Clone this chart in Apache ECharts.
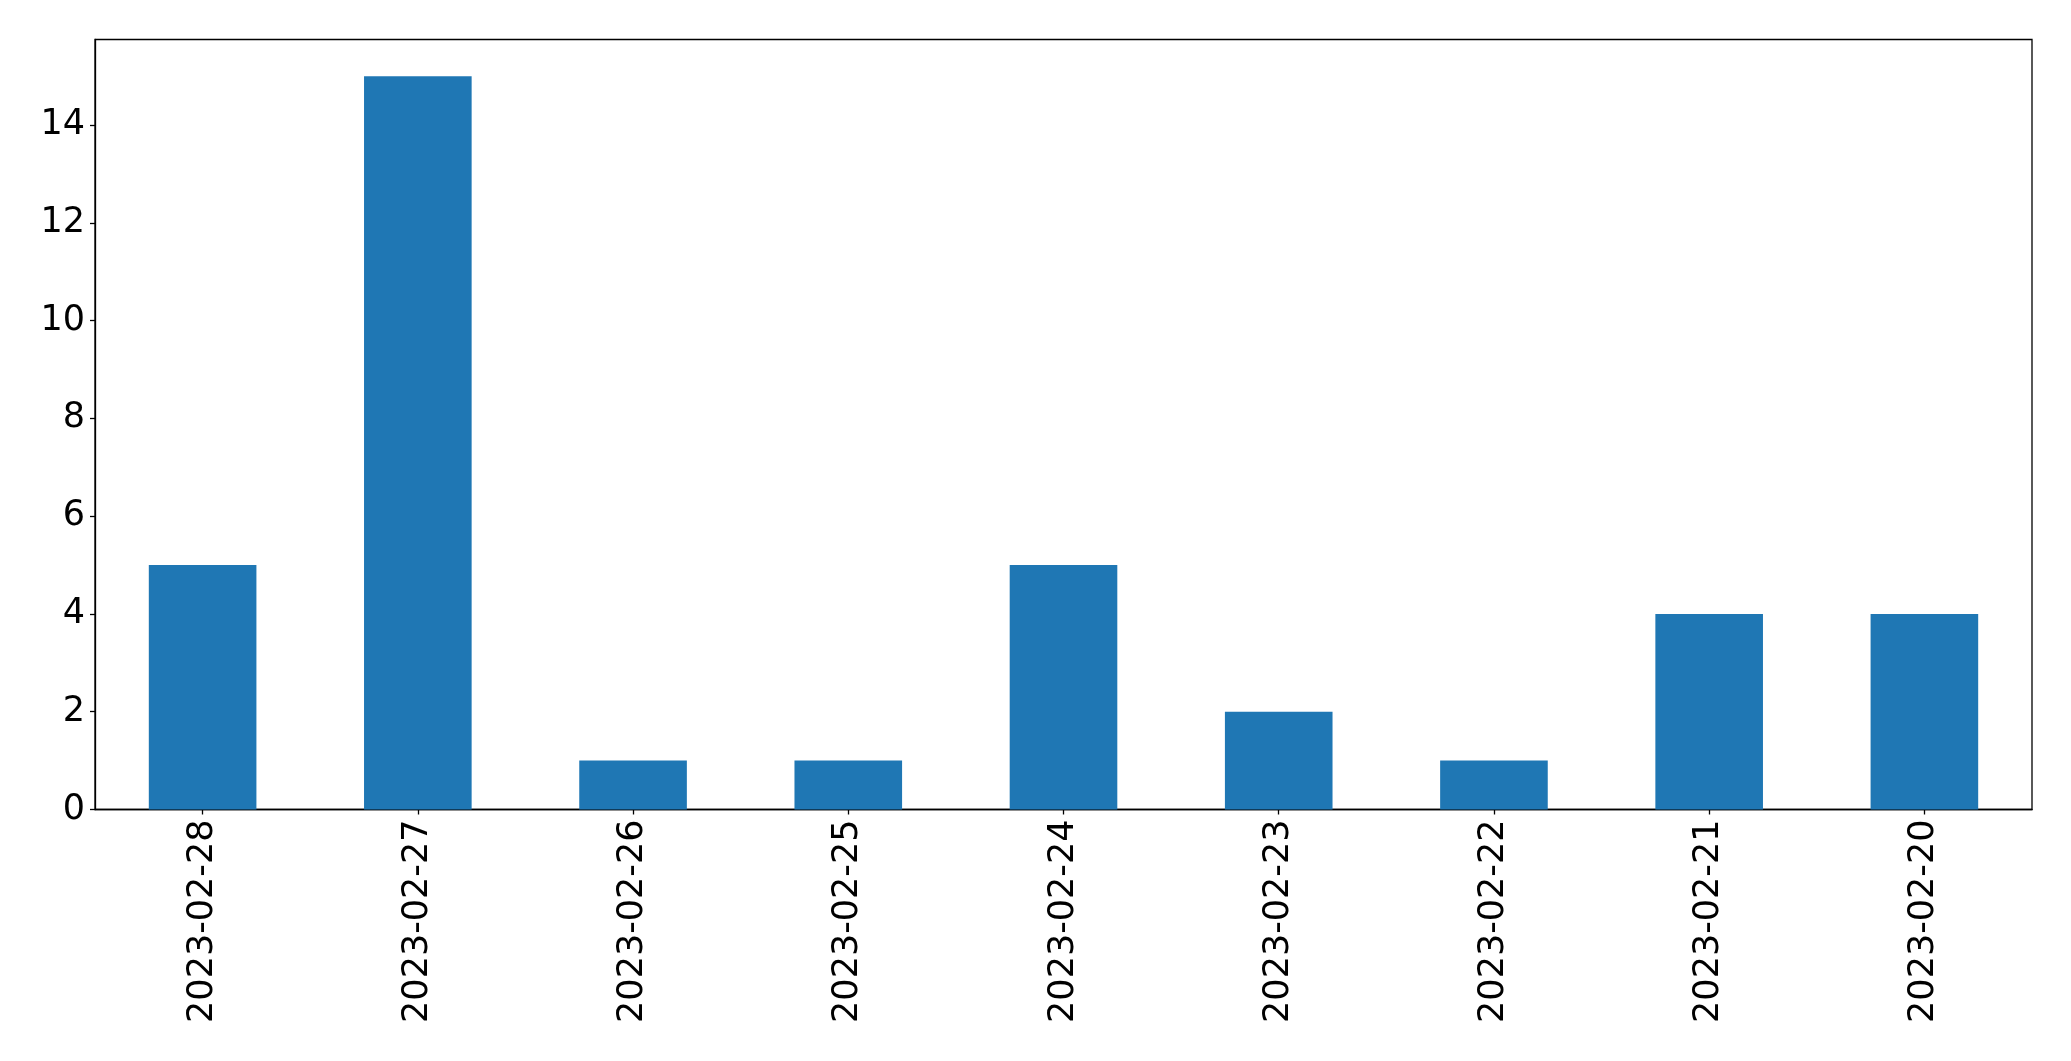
<!DOCTYPE html>
<html><head><meta charset="utf-8">
<script src="https://cdn.jsdelivr.net/npm/echarts@6/dist/echarts.min.js"></script>
<style>html,body{margin:0;padding:0;background:#fff}#c{width:2071px;height:1061px}</style>
</head><body><div id="c"></div>
<script>
const categories = ['2023-02-28','2023-02-27','2023-02-26','2023-02-25','2023-02-24','2023-02-23','2023-02-22','2023-02-21','2023-02-20'];
const values = [5,15,1,1,5,2,1,4,4];
const yTicks = [0,2,4,6,8,10,12,14];

const chart = echarts.init(document.getElementById('c'), null, {renderer:'canvas'});
chart.setOption({
  animation:false,
  backgroundColor:'#fff',
  grid:{left:95, top:39.5, width:1937, height:770, show:true, borderColor:'#000', borderWidth:1.3, backgroundColor:'transparent'},
  xAxis:{
    type:'category', data:categories, boundaryGap:true,
    axisLine:{show:true, lineStyle:{color:'#000', width:1.3}},
    axisTick:{show:true, alignWithLabel:true, length:5, lineStyle:{color:'#000', width:1.3}},
    axisLabel:{rotate:90, interval:0, margin:10, fontSize:35, color:'#000', fontFamily:'DejaVu Sans'}
  },
  yAxis:{
    type:'value', min:0, max:15.75, interval:2,
    axisLine:{show:true, lineStyle:{color:'#000', width:1.3}},
    axisTick:{show:true, length:5, customValues:yTicks, lineStyle:{color:'#000', width:1.3}},
    splitLine:{show:false},
    axisLabel:{margin:10, fontSize:35, color:'#000', fontFamily:'DejaVu Sans', customValues:yTicks}
  },
  series:[{type:'bar', data:values, barWidth:'50%', itemStyle:{color:'#1f77b4'}}]
});
</script></body></html>
